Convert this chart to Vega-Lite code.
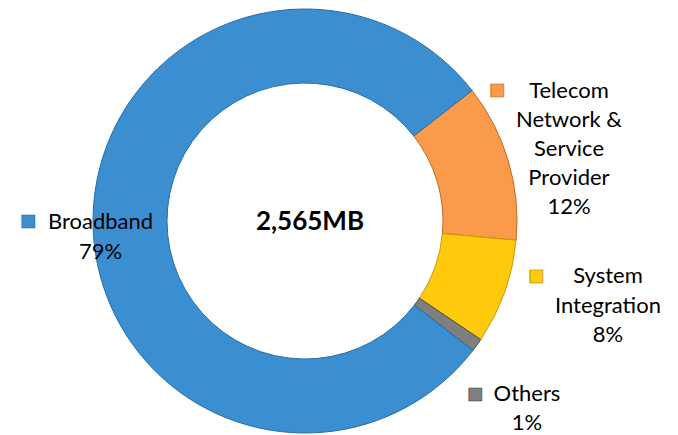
{
  "$schema": "https://vega.github.io/schema/vega-lite/v6.json",
  "autosize": {"type": "none"},
  "width": 424,
  "height": 424,
  "padding": {"left": 93, "top": 9, "right": 161, "bottom": 2},
  "background": "white",
  "config": {"view": {"stroke": null}},
  "data": {
    "values": [
      {"category": "Telecom Network & Service Provider", "value": 12, "order": 1, "lines": ["Telecom", "Network &", "Service", "Provider", "12%"]},
      {"category": "System Integration", "value": 8, "order": 2, "lines": ["System", "Integration", "8%"]},
      {"category": "Others", "value": 1, "order": 3, "lines": ["Others", "1%"]},
      {"category": "Broadband", "value": 79, "order": 4, "lines": ["Broadband", "79%"]}
    ]
  },
  "encoding": {
    "theta": {"field": "value", "type": "quantitative", "stack": true, "scale": {"range": [0.9076, 7.1908]}},
    "order": {"field": "order", "type": "ordinal"}
  },
  "layer": [
    {
      "mark": {"type": "arc", "radius": 212, "innerRadius": 138, "strokeWidth": 1},
      "encoding": {
        "color": {"field": "category", "type": "nominal", "legend": null,
          "scale": {"domain": ["Telecom Network & Service Provider", "System Integration", "Others", "Broadband"], "range": ["#F99B4B", "#FFC90C", "#7F7F7F", "#3B8ED0"]}},
        "stroke": {"field": "category", "type": "nominal", "legend": null,
          "scale": {"domain": ["Telecom Network & Service Provider", "System Integration", "Others", "Broadband"], "range": ["#C06A25", "#C99A00", "#4A4A4A", "#2A6DA6"]}}
      }
    },
    {
      "mark": {"type": "text", "radius": 273.5, "dx": 1.6, "dy": -52.3, "font": "Lato", "fontSize": 22, "lineHeight": 29, "align": "center", "baseline": "middle", "color": "#000000"},
      "encoding": {"text": {"condition": {"test": "datum.order === 1", "field": "lines"}, "value": ""}}
    },
    {
      "mark": {"type": "text", "radius": 314.7, "dx": 6.5, "dy": -50.1, "font": "Lato", "fontSize": 22, "lineHeight": 29.5, "align": "center", "baseline": "middle", "color": "#000000"},
      "encoding": {"text": {"condition": {"test": "datum.order === 2", "field": "lines"}, "value": ""}}
    },
    {
      "mark": {"type": "text", "radius": 290.6, "dx": -13.7, "dy": 3, "font": "Lato", "fontSize": 22, "lineHeight": 29, "align": "center", "baseline": "middle", "color": "#000000"},
      "encoding": {"text": {"condition": {"test": "datum.order === 3", "field": "lines"}, "value": ""}}
    },
    {
      "mark": {"type": "text", "radius": 205, "dx": 0.5, "dy": 0.7, "font": "Lato", "fontSize": 22, "lineHeight": 30, "align": "center", "baseline": "middle", "color": "#000000"},
      "encoding": {"text": {"condition": {"test": "datum.order === 4", "field": "lines"}, "value": ""}}
    },
    {
      "mark": {"type": "text", "radius": 273.5, "dx": -70.4, "dy": -53.8, "font": "DejaVu Sans", "fontSize": 17, "align": "center", "baseline": "middle", "color": "#F99B4B", "stroke": "#A85A1C", "strokeWidth": 0.6},
      "encoding": {"text": {"condition": {"test": "datum.order === 1", "value": "■"}, "value": ""}}
    },
    {
      "mark": {"type": "text", "radius": 314.7, "dx": -65.5, "dy": -50.6, "font": "DejaVu Sans", "fontSize": 17, "align": "center", "baseline": "middle", "color": "#FFC90C", "stroke": "#A07800", "strokeWidth": 0.6},
      "encoding": {"text": {"condition": {"test": "datum.order === 2", "value": "■"}, "value": ""}}
    },
    {
      "mark": {"type": "text", "radius": 290.6, "dx": -65.7, "dy": 3, "font": "DejaVu Sans", "fontSize": 17, "align": "center", "baseline": "middle", "color": "#7F7F7F", "stroke": "#3A3A3A", "strokeWidth": 0.6},
      "encoding": {"text": {"condition": {"test": "datum.order === 3", "value": "■"}, "value": ""}}
    },
    {
      "mark": {"type": "text", "radius": 205, "dx": -72, "dy": -0.3, "font": "DejaVu Sans", "fontSize": 17, "align": "center", "baseline": "middle", "color": "#3B8ED0", "stroke": "#1F5E94", "strokeWidth": 0.6},
      "encoding": {"text": {"condition": {"test": "datum.order === 4", "value": "■"}, "value": ""}}
    },
    {
      "data": {"values": [{"total": "2,565MB"}]},
      "mark": {"type": "text", "dx": 5, "dy": 1, "font": "Lato", "fontSize": 26, "fontWeight": "bold", "align": "center", "baseline": "middle", "color": "#000000"},
      "encoding": {"text": {"field": "total", "type": "nominal"}, "theta": null, "order": null}
    }
  ]
}
